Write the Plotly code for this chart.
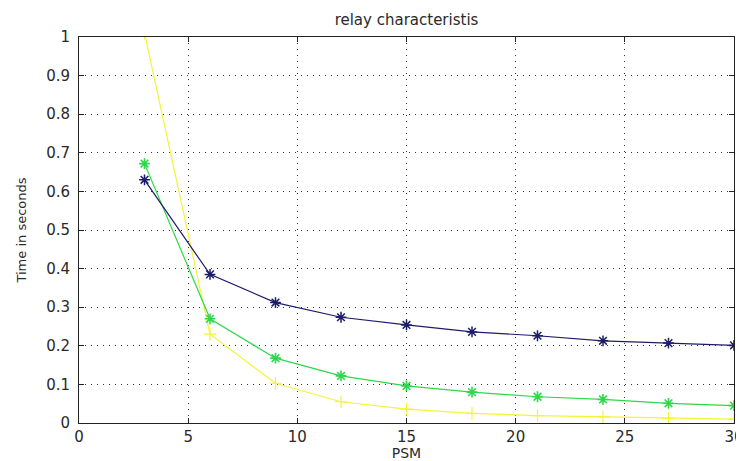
import plotly.graph_objects as go

psm = [3, 6, 9, 12, 15, 18, 21, 24, 27, 30]
t_blue = [0.630, 0.385, 0.312, 0.274, 0.254, 0.236, 0.226, 0.213, 0.207, 0.201]
t_green = [0.672, 0.270, 0.168, 0.122, 0.096, 0.080, 0.068, 0.061, 0.051, 0.045]
t_yellow = [1.01, 0.230, 0.103, 0.055, 0.036, 0.025, 0.019, 0.016, 0.012, 0.010]

x_ticks = [0, 5, 10, 15, 20, 25, 30]
y_ticks = [0, 0.1, 0.2, 0.3, 0.4, 0.5, 0.6, 0.7, 0.8, 0.9, 1]
y_ticktext = ["0", "0.1", "0.2", "0.3", "0.4", "0.5", "0.6", "0.7", "0.8", "0.9", "1"]

FONT = "DejaVu Sans"
TXT = "#2a2a2a"

fig = go.Figure()
fig.add_trace(go.Scatter(x=psm, y=t_yellow, mode="lines+markers",
                         line=dict(color="#f4f43a", width=1.2),
                         marker=dict(symbol="cross-thin-open", size=9,
                                     line=dict(color="#f0f070", width=1.2))))
fig.add_trace(go.Scatter(x=psm, y=t_green, mode="lines+markers",
                         line=dict(color="#2ed84a", width=1.2),
                         marker=dict(symbol="asterisk-open", size=9,
                                     line=dict(color="#22e022", width=1.6))))
fig.add_trace(go.Scatter(x=psm, y=t_blue, mode="lines+markers",
                         line=dict(color="#1c1c6a", width=1.2),
                         marker=dict(symbol="asterisk-open", size=9,
                                     line=dict(color="#6a2a8a", width=1.5))))

axis_common = dict(showline=True, linecolor="#222", linewidth=1, mirror="allticks",
                   ticks="inside", ticklen=5, tickcolor="#222",
                   showgrid=True, gridcolor="#333", griddash="1px,5px", gridwidth=1,
                   zeroline=False, automargin=False,
                   tickfont=dict(family=FONT, size=15, color=TXT))

fig.update_xaxes(range=[0, 30], tickvals=x_ticks,
                 title=dict(text="PSM", font=dict(family=FONT, size=14, color=TXT), standoff=5),
                 **axis_common)
fig.update_yaxes(range=[0, 1], tickvals=y_ticks, ticktext=y_ticktext, ticklabelstandoff=5,
                 title=dict(text="Time in seconds", font=dict(family=FONT, size=13, color=TXT), standoff=16),
                 **axis_common)

# page body has an 8px margin, so the figure is sized/offset to compensate
fig.update_layout(
    width=736, height=453,
    margin=dict(l=71, r=10, t=29, b=38),
    paper_bgcolor="white", plot_bgcolor="white",
    showlegend=False,
    title=dict(text="relay characteristis", xref="paper", x=0.5, xanchor="center",
               y=0.9735, yanchor="middle",
               font=dict(family=FONT, size=15, color=TXT), automargin=False),
)

fig.write_html("out.html")
